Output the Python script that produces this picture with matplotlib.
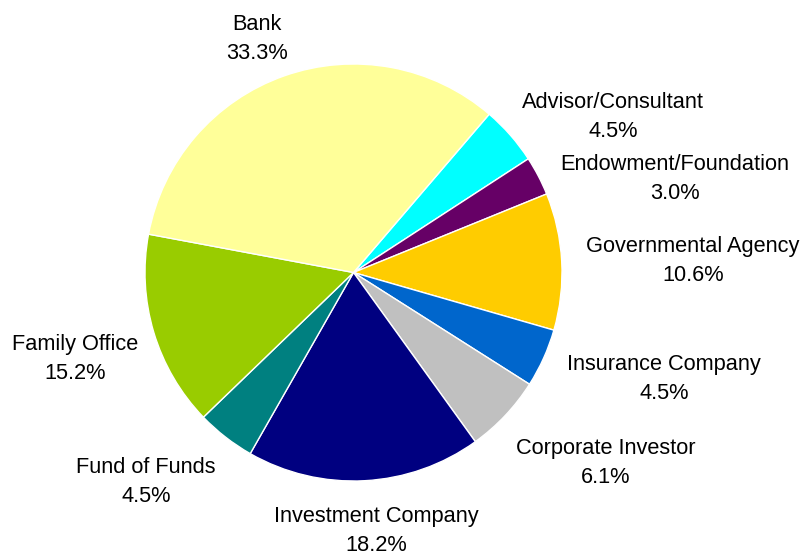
import matplotlib.pyplot as plt

# investor types, clockwise from the top right
categories = ['Advisor/Consultant', 'Endowment/Foundation', 'Governmental Agency',
              'Insurance Company', 'Corporate Investor', 'Investment Company',
              'Fund of Funds', 'Family Office', 'Bank']
counts = [3, 2, 7, 3, 4, 12, 3, 10, 22]
colors = ['#00FFFF', '#660066', '#FFCC00', '#0066CC', '#C0C0C0',
          '#000080', '#008080', '#99CC00', '#FFFF99']

# label centres in pixels (top-left origin)
label_pos = [(613, 117), (675, 179), (693, 261), (664, 379), (606, 463),
             (376, 531), (146, 482), (75, 359), (257, 39)]

W, H = 803, 557
plt.rcParams['font.family'] = ['Liberation Sans', 'DejaVu Sans']
fig = plt.figure(figsize=(W / 100, H / 100), dpi=100)
ax = fig.add_axes([0, 0, 1, 1])

cx, cy, r = 353.5, H - 272.5, 208.5
ax.pie(counts, colors=colors, startangle=49.4, counterclock=False,
       center=(cx, cy), radius=r, frame=True,
       wedgeprops=dict(edgecolor='white', linewidth=1))
ax.set_xlim(0, W)
ax.set_ylim(0, H)
ax.axis('off')

total = sum(counts)
for name, n, (x, y) in zip(categories, counts, label_pos):
    ax.text(x, H - y, '%s\n%.1f%%' % (name, 100.0 * n / total),
            ha='center', va='center', fontsize=15.7, linespacing=1.55,
            color='black')

fig.savefig('out.png', dpi=100)
